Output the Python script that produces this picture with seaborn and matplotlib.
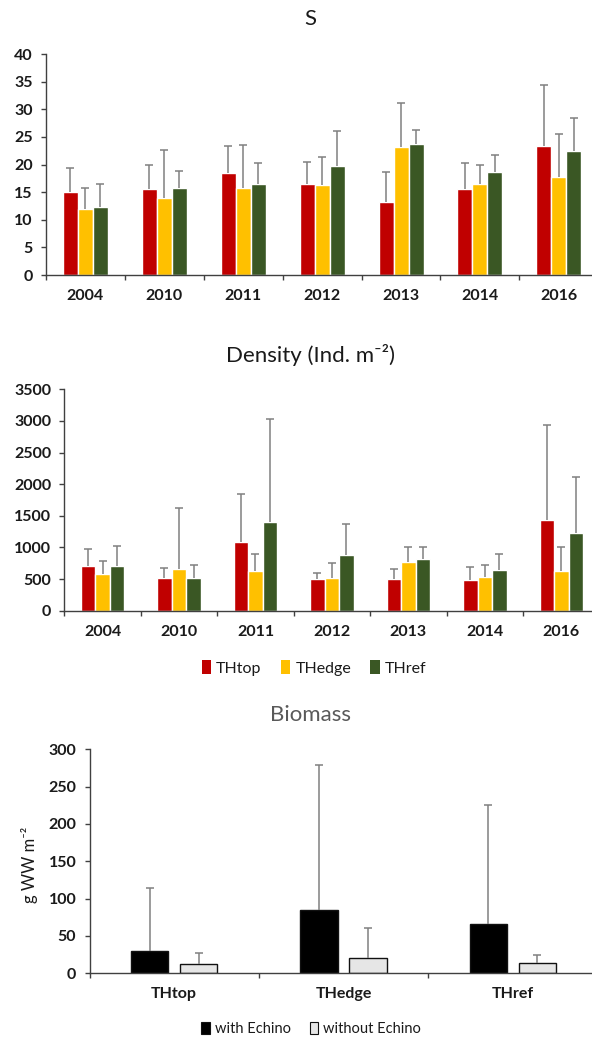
import numpy as np
import pandas as pd
import matplotlib
matplotlib.use("Agg")
import matplotlib.pyplot as plt
from matplotlib.patches import Patch
import seaborn as sns

# ---- data -------------------------------------------------------------
years = ["2004", "2010", "2011", "2012", "2013", "2014", "2016"]
sites = ["THtop", "THedge", "THref"]

# species richness (mean and SD)
s_mean = {
    "THtop":  [15.1, 15.6, 18.5, 16.5, 13.2, 15.6, 23.4],
    "THedge": [11.9, 13.9, 15.7, 16.2, 23.2, 16.5, 17.8],
    "THref":  [12.3, 15.8, 16.5, 19.7, 23.8, 18.7, 22.5],
}
s_sd = {
    "THtop":  [4.3, 4.3, 4.8, 4.0, 5.5, 4.7, 11.0],
    "THedge": [3.8, 8.7, 7.8, 5.1, 8.0, 3.5, 7.8],
    "THref":  [4.2, 3.1, 3.8, 6.4, 2.5, 3.0, 5.9],
}

# density, ind. m-2 (mean and SD)
d_mean = {
    "THtop":  [710, 520, 1090, 505, 505, 485, 1430],
    "THedge": [580, 655, 620, 510, 770, 540, 625],
    "THref":  [705, 520, 1395, 885, 825, 645, 1230],
}
d_sd = {
    "THtop":  [270, 155, 760, 85, 155, 210, 1500],
    "THedge": [200, 970, 275, 250, 230, 175, 375],
    "THref":  [315, 195, 1635, 480, 175, 250, 890],
}

# biomass, g WW m-2 (mean and SD)
groups = ["with Echino", "without Echino"]
b_mean = {"with Echino": [30, 85, 66.5], "without Echino": [12.5, 21, 14]}
b_sd = {"with Echino": [84.5, 194, 158.5], "without Echino": [15, 39.5, 10.5]}

site_colors = ["#C00000", "#FFC000", "#3A5724"]
bio_colors = ["#000000", "#E6E6E6"]

# ---- style ------------------------------------------------------------
sns.set_style("white")
plt.rcParams["font.family"] = ["Lato", "DejaVu Sans"]
TXT = "#1a1a1a"
AXC = "#404040"
ERR = "#808080"


def long_frame(mean, cats, hues, catname, huename):
    rows = []
    for h in hues:
        for c, v in zip(cats, mean[h]):
            rows.append({catname: c, huename: h, "value": v})
    return pd.DataFrame(rows)


def add_errors(ax, sd, hues):
    for cont, h in zip(ax.containers, hues):
        xs = [b.get_x() + b.get_width() / 2 for b in cont]
        ys = [b.get_height() for b in cont]
        err = ax.errorbar(xs, ys, yerr=[np.zeros(len(ys)), sd[h]], fmt="none",
                          ecolor=ERR, elinewidth=1.1, capsize=2.6,
                          capthick=1.1, zorder=3)
        # only the upper cap is drawn
        err[1][0].set_visible(False)


def style_axis(ax, ncat, ymax, step):
    ax.set_xlim(-0.5, ncat - 0.5)
    ax.set_ylim(0, ymax)
    ax.set_yticks(np.arange(0, ymax + step / 2, step))
    ax.set_xticks(np.arange(-0.5, ncat, 1.0), minor=True)
    for side in ["top", "right"]:
        ax.spines[side].set_visible(False)
    for side in ["left", "bottom"]:
        ax.spines[side].set_color(AXC)
        ax.spines[side].set_linewidth(1.0)
    ax.tick_params(axis="x", which="major", length=0, pad=10,
                   labelsize=11.5, labelcolor=TXT)
    ax.tick_params(axis="x", which="minor", length=3.5, width=1.0,
                   color=AXC, direction="out", bottom=True)
    ax.tick_params(axis="y", length=3.5, width=1.0, color=AXC,
                   direction="out", left=True, pad=6, labelsize=11.5,
                   labelcolor=TXT)
    for lab in ax.get_xticklabels() + ax.get_yticklabels():
        lab.set_fontweight("bold")
    ax.set_xlabel("")
    ax.set_ylabel("")
    ax.grid(False)


W, H = 592, 1038
fig = plt.figure(figsize=(W / 100, H / 100), dpi=100)


def axes_px(left, right, top, bottom):
    return fig.add_axes([left / W, 1 - bottom / H, (right - left) / W,
                         (bottom - top) / H])


# ---- S ----------------------------------------------------------------
ax1 = axes_px(46, 598.3, 54, 275)
df_s = long_frame(s_mean, years, sites, "year", "site")
sns.barplot(data=df_s, x="year", y="value", hue="site", order=years,
            hue_order=sites, palette=site_colors, width=0.57,
            errorbar=None, saturation=1, legend=False, ax=ax1)
add_errors(ax1, s_sd, sites)
style_axis(ax1, len(years), 40, 5)
fig.text(310 / W, 1 - 19 / H, "S", ha="center", va="center",
         fontsize=16, color=TXT)

# ---- Density ----------------------------------------------------------
ax2 = axes_px(64.3, 599.6, 389.3, 610.7)
df_d = long_frame(d_mean, years, sites, "year", "site")
sns.barplot(data=df_d, x="year", y="value", hue="site", order=years,
            hue_order=sites, palette=site_colors, width=0.57,
            errorbar=None, saturation=1, legend=False, ax=ax2)
add_errors(ax2, d_sd, sites)
style_axis(ax2, len(years), 3500, 500)
fig.text(311 / W, 1 - 355 / H, "Density (Ind. m\u207b\u00b2)",
         ha="center", va="center", fontsize=16, color=TXT)
handles = [Patch(facecolor=c, edgecolor="none", label=s)
           for c, s in zip(site_colors, sites)]
fig.legend(handles=handles, loc="center", bbox_to_anchor=(314 / W, 1 - 668 / H),
           ncol=3, frameon=False, fontsize=11.5, handlelength=0.6,
           handleheight=0.9, handletextpad=0.3, columnspacing=1.2,
           labelcolor=TXT)

# ---- Biomass ----------------------------------------------------------
ax3 = axes_px(89.5, 597.6, 749.3, 973.3)
df_b = long_frame(b_mean, sites, groups, "site", "group")
sns.barplot(data=df_b, x="site", y="value", hue="group", order=sites,
            hue_order=groups, palette=bio_colors, width=0.58, gap=0.24,
            errorbar=None, saturation=1, legend=False, ax=ax3,
            edgecolor="#111111", linewidth=1.0)
add_errors(ax3, b_sd, groups)
style_axis(ax3, len(sites), 300, 50)
fig.text(310 / W, 1 - 715 / H, "Biomass", ha="center", va="center",
         fontsize=16, color="#595959")
fig.text(30 / W, 1 - 865 / H, "g WW m\u207b\u00b2", ha="center",
         va="center", rotation=90, fontsize=12, color=TXT)
handles_b = [Patch(facecolor=c, edgecolor="#111111", linewidth=0.8, label=g)
             for c, g in zip(bio_colors, groups)]
fig.legend(handles=handles_b, loc="center",
           bbox_to_anchor=(311 / W, 1 - 1029 / H), ncol=2, frameon=False,
           fontsize=10.5, handlelength=0.6, handleheight=0.9,
           handletextpad=0.3, columnspacing=1.3, labelcolor=TXT)

fig.savefig("out.png", dpi=100)
